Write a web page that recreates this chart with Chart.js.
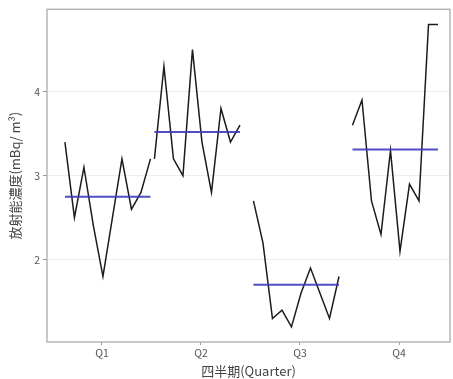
<!DOCTYPE html>
<html>
<head>
<meta charset="utf-8">
<script src="https://cdn.jsdelivr.net/npm/chart.js@4.4.1/dist/chart.umd.min.js"></script>
<style>
  html, body { margin: 0; padding: 0; background: #ffffff; }
  #c { display: block; }
</style>
</head>
<body>
<canvas id="c" width="453" height="379"></canvas>
<script>
// ---- data ----
const quarters = ['Q1', 'Q2', 'Q3', 'Q4'];
const q1Values = [3.4, 2.5, 3.1, 2.4, 1.8, 2.5, 3.2, 2.6, 2.8, 3.2];
const q2Values = [3.2, 4.3, 3.2, 3.0, 4.5, 3.4, 2.8, 3.8, 3.4, 3.6];
const q3Values = [2.7, 2.2, 1.3, 1.4, 1.2, 1.6, 1.9, 1.6, 1.3, 1.8];
const q4Values = [3.6, 3.9, 2.7, 2.3, 3.3, 2.1, 2.9, 2.7, 4.8, 4.8];
const quarterMeans = [2.75, 3.52, 1.70, 3.31];
const yTickValues = [2, 3, 4];
const xTitle = '四半期(Quarter)';
const yTitle = '放射能濃度(mBq/ m³)';

const series = [q1Values, q2Values, q3Values, q4Values];

// subseries layout (positions only): series starts in Q2, so Q1 years are shifted one step
const xStep = 0.096;
const xStartOffset = [-0.374, -0.47, -0.47, -0.47];

function xPos(qi, k) { return (qi + 1) + xStartOffset[qi] + k * xStep; }

const datasets = [];
series.forEach((vals, qi) => {
  datasets.push({
    data: vals.map((v, k) => ({ x: xPos(qi, k), y: v })),
    borderColor: '#1c1c1c',
    borderWidth: 1.5,
    pointRadius: 0,
    tension: 0,
    order: 2
  });
});
series.forEach((vals, qi) => {
  const n = vals.length;
  datasets.push({
    data: [
      { x: xPos(qi, 0), y: quarterMeans[qi] },
      { x: xPos(qi, n - 1), y: quarterMeans[qi] }
    ],
    borderColor: 'rgba(60,60,190,0.9)',
    borderWidth: 2,
    pointRadius: 0,
    order: 1
  });
});

const panelBorder = {
  id: 'panelBorder',
  afterDraw(chart) {
    const { ctx, chartArea: a } = chart;
    ctx.save();
    ctx.strokeStyle = '#b5b5b5';
    ctx.lineWidth = 1.5;
    ctx.strokeRect(a.left, a.top, a.right - a.left, a.bottom - a.top);
    ctx.restore();
  }
};

const tickFont = { family: "'Noto Sans CJK JP', 'Noto Sans', sans-serif", size: 10.5 };
const titleFont = { family: "'Noto Sans CJK JP', 'Noto Sans', sans-serif", size: 13 };

new Chart(document.getElementById('c'), {
  type: 'line',
  data: { datasets },
  plugins: [panelBorder],
  options: {
    responsive: false,
    animation: false,
    devicePixelRatio: 1,
    layout: { padding: { left: 0, top: 7, right: 3, bottom: 0 } },
    plugins: { legend: { display: false }, tooltip: { enabled: false } },
    scales: {
      x: {
        type: 'linear',
        min: 0.445,
        max: 4.515,
        afterBuildTicks(scale) { scale.ticks = quarters.map((q, i) => ({ value: i + 1 })); },
        afterFit(scale) { scale.height = 37; },
        ticks: {
          color: '#555555',
          font: tickFont,
          padding: 2,
          maxRotation: 0,
          autoSkip: false,
          callback: (v) => quarters[Math.round(v) - 1]
        },
        grid: { drawOnChartArea: false, drawTicks: true, tickLength: 3, tickColor: '#9a9a9a' },
        border: { display: false },
        title: { display: true, text: xTitle, color: '#444444', font: titleFont, padding: { top: 0, bottom: 0 } }
      },
      y: {
        type: 'linear',
        min: 1.02,
        max: 4.98,
        afterBuildTicks(scale) { scale.ticks = yTickValues.map(v => ({ value: v })); },
        afterFit(scale) { scale.width = 47; },
        ticks: {
          color: '#555555',
          font: tickFont,
          padding: 3,
          callback: (v) => String(v)
        },
        grid: { color: '#eeeeee', lineWidth: 1, drawTicks: true, tickLength: 4, tickColor: '#9a9a9a' },
        border: { display: false },
        title: { display: true, text: yTitle, color: '#444444', font: titleFont, padding: { top: 7, bottom: 0 } }
      }
    }
  }
});
</script>
</body>
</html>
